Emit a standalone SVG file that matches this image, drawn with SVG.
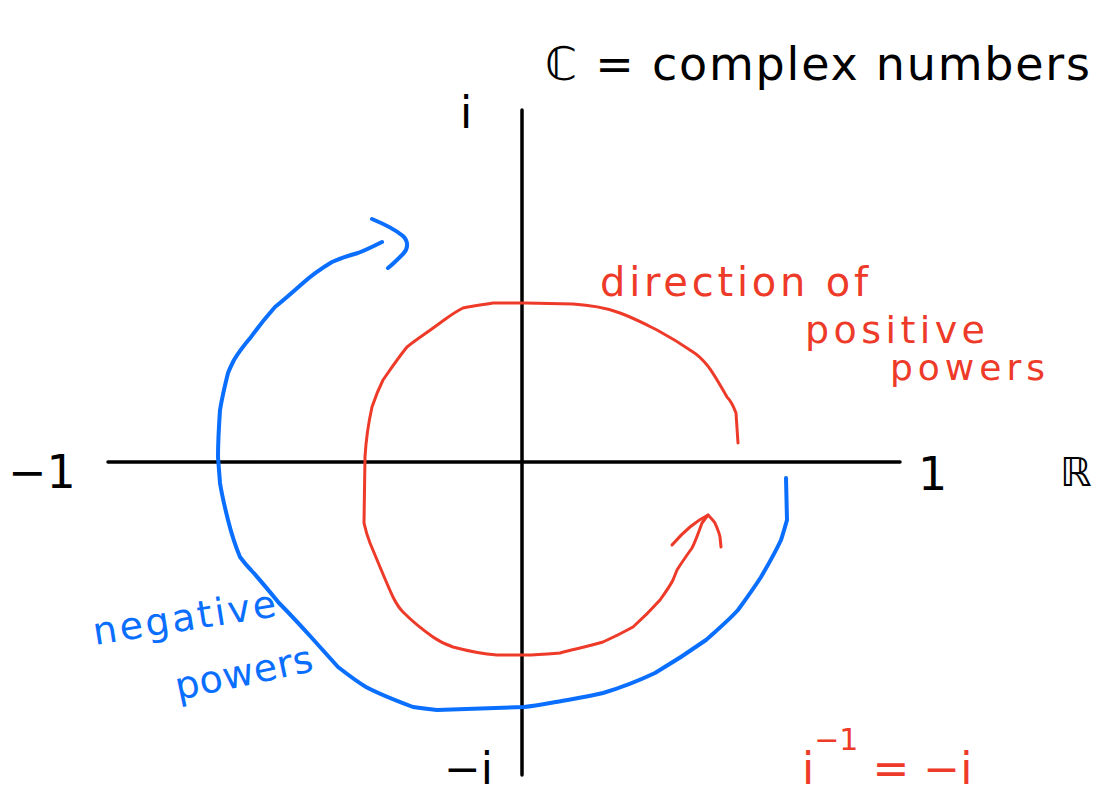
<svg xmlns="http://www.w3.org/2000/svg" width="1095" height="798" viewBox="0 0 1095 798">
<style>
.ax{stroke:#000;stroke-width:3.5;fill:none;stroke-linecap:round}
.red{stroke:#ee3a29;stroke-width:3;fill:none;stroke-linecap:round;stroke-linejoin:round}
.blue{stroke:#0a6eff;stroke-width:4;fill:none;stroke-linecap:round;stroke-linejoin:round}
text{font-family:"DejaVu Sans","Liberation Sans",sans-serif}
.tk{fill:#000}
.tr{fill:#ee3a29}
.tb{fill:#0a6eff}
</style>
<rect width="1095" height="798" fill="#fff"/>
<g id="connectors">
<g id="axes">
<line class="ax" x1="522" y1="110" x2="522" y2="775"/>
<line class="ax" x1="108" y1="462" x2="900" y2="462"/>
</g>
<g id="positive-curve">
<path class="red" d="M738,443 L736,413 C733,405 730,400 727,397 C720,385 713,372 707,365 C702,359 698,355 693,352 C680,343 670,337 657,330 C643,323 630,316 617,312 C603,307 588,305 573,304 L525,303 C510,303 500,303 493,303 C480,305 471,306 463,308 C453,313 447,318 440,323 C428,332 417,339 407,347 C398,358 390,370 383,380 C378,390 375,398 372,407 C368,425 366,440 365,457 L364,523 C366,532 368,538 370,543 C378,562 386,582 393,597 C396,603 399,608 403,612 C413,622 423,630 433,637 C440,642 447,645 453,647 C468,651 483,654 497,655 L525,655 C537,655 548,654 560,653 C575,649 590,646 603,642 C614,637 624,632 633,627 C643,618 652,609 660,600 C665,593 670,586 673,580 L677,570 C682,562 687,555 692,548 C696,540 699,531 702,523 L708,515"/>
<path class="red" d="M672,545 C678,538 684,532 690,527 C696,522 702,518 708,515 C711,518 713,520 715,523 C717,528 719,532 720,537 L721,547"/>
</g>
<g id="negative-curve">
<path class="blue" d="M786,478 L787,520 C785,527 783,534 781,540 C775,553 768,565 761,577 C754,588 746,599 738,610 C728,621 717,630 706,640 C689,652 672,663 655,673 C638,681 620,688 603,693 C587,697 571,699 556,702 C545,704 535,706 524,707 L437,710 C428,709 420,708 413,707 C397,701 381,695 366,687 C356,681 347,674 338,667 C329,657 320,647 311,637 C301,626 290,614 279,603 C270,592 260,580 251,570 C246,565 243,561 240,557 C235,545 231,532 228,520 C225,508 222,496 220,483 L218,457 C218,440 219,425 220,410 C222,398 225,385 228,373 C230,368 232,364 234,360 C240,350 245,344 251,337 C259,326 267,316 275,307 C285,299 294,291 303,283 C312,275 322,268 332,262 C341,258 350,255 358,253 C366,250 374,246 382,242"/>
<path class="blue" d="M372,219 C384,224 396,230 403,236 C409,242 408,249 403,254 C398,259 393,264 388,268"/>
</g>
</g>
<g id="title">
<text class="tk" x="545" y="80" font-size="46" textLength="545" lengthAdjust="spacing">ℂ = complex numbers</text>
</g>
<g id="label-i">
<text class="tk" x="460" y="128" font-size="44">i</text>
</g>
<g id="label-neg1">
<text class="tk" x="8" y="488" font-size="46">−1</text>
</g>
<g id="label-1">
<text class="tk" x="918" y="490" font-size="46">1</text>
</g>
<g id="label-R">
<text class="tk" x="1060" y="486" font-size="40">ℝ</text>
</g>
<g id="label-negi">
<text class="tk" x="444" y="784" font-size="44">−i</text>
</g>
<g id="label-positive">
<text class="tr" x="600" y="296" font-size="40" textLength="268" lengthAdjust="spacing">direction of</text>
<text class="tr" x="805" y="343" font-size="38" textLength="180" lengthAdjust="spacing">positive</text>
<text class="tr" x="890" y="380" font-size="36" textLength="155" lengthAdjust="spacing">powers</text>
</g>
<g id="label-negative">
<text class="tb" x="95" y="645" font-size="38" textLength="185" lengthAdjust="spacing" transform="rotate(-9 95 645)">negative</text>
<text class="tb" x="178" y="700" font-size="38" textLength="140" lengthAdjust="spacing" transform="rotate(-12 178 700)">powers</text>
</g>
<g id="label-inverse">
<text class="tr" x="802" y="784" font-size="44">i<tspan font-size="30" dy="-34">−1</tspan><tspan dy="34"> = −i</tspan></text>
</g>
</svg>
